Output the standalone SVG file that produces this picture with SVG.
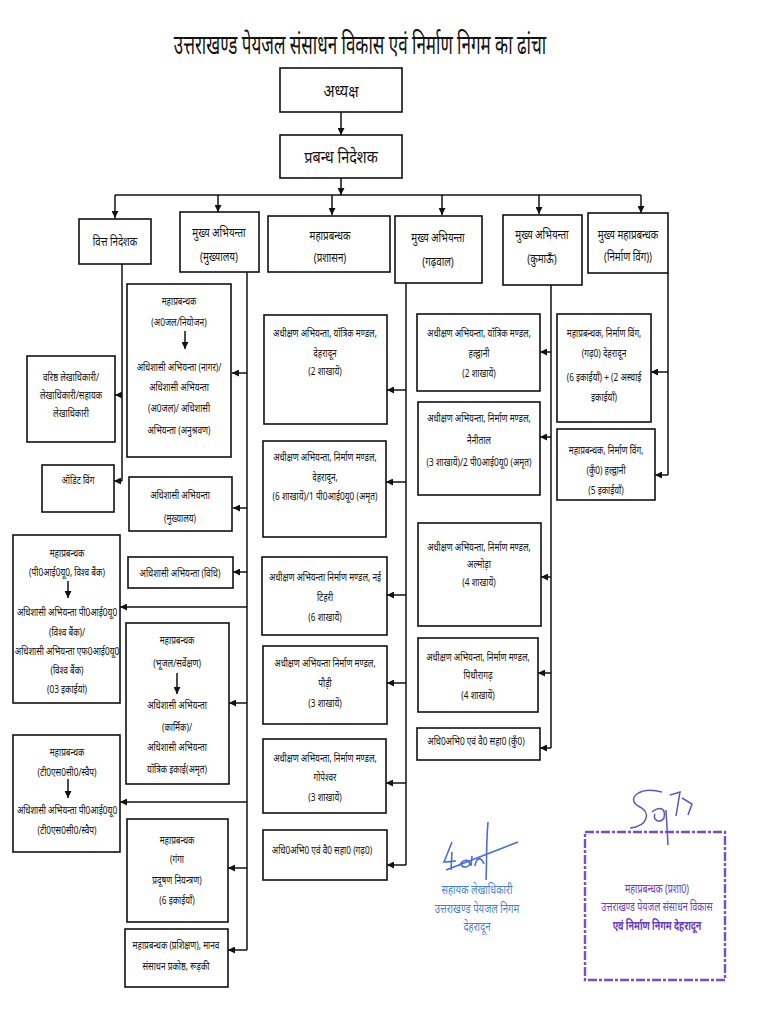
<svg xmlns="http://www.w3.org/2000/svg" width="768" height="1024" viewBox="0 0 768 1024">
<defs>
<marker id="ah" viewBox="0 0 10 10" refX="10" refY="5" markerWidth="7" markerHeight="7" markerUnits="userSpaceOnUse" orient="auto"><path d="M0,0 L10,5 L0,10 z" fill="#111"/></marker>
</defs>
<style>
.b{fill:#fff;stroke:#111;stroke-width:1.6}
text{font-family:"Noto Sans","Noto Sans Devanagari","Lohit Devanagari",sans-serif;fill:#111;text-anchor:middle;font-size:11.5px}
.h text{font-size:13px}
.c{fill:none;stroke:#111;stroke-width:1.5}
.a{fill:none;stroke:#111;stroke-width:1.5;marker-end:url(#ah)}
.blue text{fill:#4a7fd0;font-size:12px}
.pur text{fill:#6a3cc0;font-size:12px}
</style>
<rect width="768" height="1024" fill="#fff"/>
<g id="title" transform="translate(360 0) scale(0.63 1)"><text x="0" y="54" style="font-size:27px">उत्तराखण्ड पेयजल संसाधन विकास एवं निर्माण निगम का ढांचा</text></g>

<g id="connectors">
<path class="a" d="M341,112 V135"/>
<path class="a" d="M341,178 V195"/>
<path class="c" d="M115,195 H641"/>
<path class="a" d="M115,195 V218"/>
<path class="a" d="M218,195 V212"/>
<path class="a" d="M332,195 V215"/>
<path class="a" d="M442,195 V215"/>
<path class="a" d="M539,195 V214"/>
<path class="a" d="M641,195 V213"/>
<path class="c" d="M122,264 V481"/>
<path class="a" d="M122,395 H115"/>
<path class="a" d="M122,481 H114"/>
<path class="c" d="M247,272 V950"/>
<path class="a" d="M247,373 H232"/>
<path class="a" d="M247,508 H233"/>
<path class="a" d="M247,572 H233"/>
<path class="a" d="M247,607 H120"/>
<path class="a" d="M247,703 H229"/>
<path class="a" d="M247,802 H120"/>
<path class="a" d="M247,868 H228"/>
<path class="a" d="M247,950 H228"/>
<path class="c" d="M406,283 V865"/>
<path class="a" d="M406,390 H387"/>
<path class="a" d="M406,482 H386"/>
<path class="a" d="M406,595 H387"/>
<path class="a" d="M406,683 H387"/>
<path class="a" d="M406,783 H386"/>
<path class="a" d="M406,865 H387"/>
<path class="c" d="M551,285 V748"/>
<path class="a" d="M551,352 H540"/>
<path class="a" d="M551,437 H540"/>
<path class="a" d="M551,577 H541"/>
<path class="a" d="M551,673 H538"/>
<path class="a" d="M551,748 H540"/>
<path class="c" d="M668,273 V475"/>
<path class="a" d="M668,372 H651"/>
<path class="a" d="M668,475 H655"/>
</g>

<g id="n-adhyaksh"><rect class="b" x="280" y="68" width="122" height="44"/><g transform="translate(341 0) scale(0.85 1)"><text x="0" y="97" style="font-size:17px">अध्यक्ष</text></g></g>
<g id="n-md"><rect class="b" x="280" y="135" width="122" height="43"/><g transform="translate(341 0) scale(0.85 1)"><text x="0" y="163" style="font-size:17px">प्रबन्ध निदेशक</text></g></g>

<g id="n-fin" class="h"><rect class="b" x="79" y="219" width="72" height="45"/><g transform="translate(115 0) scale(0.75 1)"><text x="0" y="246">वित्त निदेशक</text></g></g>
<g id="n-ce-hq" class="h"><rect class="b" x="180" y="212" width="79" height="60"/><g transform="translate(219 0) scale(0.75 1)"><text x="0" y="237">मुख्य अभियन्ता</text><text x="0" y="261">(मुख्यालय)</text></g></g>
<g id="n-gm-admin" class="h"><rect class="b" x="268" y="216" width="122" height="56"/><g transform="translate(330 0) scale(0.75 1)"><text x="0" y="240">महाप्रबन्धक</text><text x="0" y="262">(प्रशासन)</text></g></g>
<g id="n-ce-garhwal" class="h"><rect class="b" x="395" y="216" width="87" height="67"/><g transform="translate(438 0) scale(0.75 1)"><text x="0" y="242">मुख्य अभियन्ता</text><text x="0" y="266">(गढ़वाल)</text></g></g>
<g id="n-ce-kumaon" class="h"><rect class="b" x="503" y="215" width="79" height="70"/><g transform="translate(542 0) scale(0.75 1)"><text x="0" y="239">मुख्य अभियन्ता</text><text x="0" y="263">(कुमाऊँ)</text></g></g>
<g id="n-cgm-wing" class="h"><rect class="b" x="588" y="213" width="80" height="60"/><g transform="translate(628 0) scale(0.75 1)"><text x="0" y="239">मुख्य महाप्रबन्धक</text><text x="0" y="261">(निर्माण विंग))</text></g></g>

<g id="n-accounts"><rect class="b" x="27" y="356" width="88" height="86"/><g transform="translate(71 0) scale(0.72 1)"><text x="0" y="381">वरिष्ठ लेखाधिकारी/</text><text x="0" y="399">लेखाधिकारी/सहायक</text><text x="0" y="417">लेखाधिकारी</text></g></g>
<g id="n-audit"><rect class="b" x="42" y="465" width="72" height="47"/><g transform="translate(78 0) scale(0.72 1)"><text x="0" y="484">ऑडिट विंग</text></g></g>

<g id="n-gm-plan"><rect class="b" x="127" y="284" width="104" height="173"/><g transform="translate(179 0) scale(0.72 1)"><text x="0" y="305">महाप्रबन्धक</text><text x="0" y="326">(अ0जल/नियोजन)</text><text x="0" y="371">अधिशासी अभियन्ता (नागर)/</text><text x="0" y="391">अधिशासी अभियन्ता</text><text x="0" y="412">(अ0जल)/ अधिशासी</text><text x="0" y="434">अभियन्ता (अनुश्रवण)</text></g><path class="a" d="M185,331 V349"/></g>
<g id="n-ee-hq"><rect class="b" x="129" y="477" width="103" height="54"/><g transform="translate(180 0) scale(0.72 1)"><text x="0" y="499">अधिशासी अभियन्ता</text><text x="0" y="522">(मुख्यालय)</text></g></g>
<g id="n-ee-law"><rect class="b" x="128" y="557" width="105" height="31"/><g transform="translate(180 0) scale(0.72 1)"><text x="0" y="577">अधिशासी अभियन्ता (विधि)</text></g></g>
<g id="n-gm-wb"><rect class="b" x="13" y="535" width="107" height="168"/><g transform="translate(67 0) scale(0.72 1)"><text x="0" y="557">महाप्रबन्धक</text><text x="0" y="576">(पी0आई0यू0, विश्व बैंक)</text><text x="0" y="616">अधिशासी अभियन्ता पी0आई0यू0</text><text x="0" y="636">(विश्व बैंक)/</text><text x="0" y="655">अधिशासी अभियन्ता एफ0आई0यू0</text><text x="0" y="674">(विश्व बैंक)</text><text x="0" y="693">(03 इकाईयां)</text></g><path class="a" d="M68,581 V598"/></g>
<g id="n-gm-gw"><rect class="b" x="126" y="623" width="103" height="161"/><g transform="translate(177 0) scale(0.72 1)"><text x="0" y="644">महाप्रबन्धक</text><text x="0" y="667">(भूजल/सर्वेक्षण)</text><text x="0" y="709">अधिशासी अभियन्ता</text><text x="0" y="731">(कार्मिक)/</text><text x="0" y="751">अधिशासी अभियन्ता</text><text x="0" y="773">यॉत्रिक इकाई(अमृत)</text></g><path class="a" d="M177,673 V694"/></g>
<g id="n-gm-tsc"><rect class="b" x="13" y="735" width="107" height="117"/><g transform="translate(67 0) scale(0.72 1)"><text x="0" y="756">महाप्रबन्धक</text><text x="0" y="776">(टी0एस0सी0/स्वैप)</text><text x="0" y="814">अधिशासी अभियन्ता पी0आई0यू0</text><text x="0" y="834">(टी0एस0सी0/स्वैप)</text></g><path class="a" d="M68,779 V798"/></g>
<g id="n-gm-ganga"><rect class="b" x="127" y="819" width="101" height="103"/><g transform="translate(177 0) scale(0.72 1)"><text x="0" y="844">महाप्रबन्धक</text><text x="0" y="863">(गंगा</text><text x="0" y="884">प्रदूषण नियन्त्रण)</text><text x="0" y="904">(6 इकाईयाँ)</text></g></g>
<g id="n-gm-training"><rect class="b" x="125" y="929" width="103" height="58"/><g transform="translate(176 0) scale(0.72 1)"><text x="0" y="949">महाप्रबन्धक (प्रशिक्षण), मानव</text><text x="0" y="970">संसाधन प्रकोष्ठ, रूड़की</text></g></g>

<g id="n-se-mech-ddn"><rect class="b" x="264" y="315" width="123" height="109"/><g transform="translate(325 0) scale(0.72 1)"><text x="0" y="337">अधीक्षण अभियन्ता, यॉत्रिक मण्डल,</text><text x="0" y="357">देहरादून</text><text x="0" y="375">(2 शाखायें)</text></g></g>
<g id="n-se-ddn"><rect class="b" x="263" y="441" width="123" height="96"/><g transform="translate(325 0) scale(0.72 1)"><text x="0" y="461">अधीक्षण अभियन्ता, निर्माण मण्डल,</text><text x="0" y="481">देहरादून,</text><text x="0" y="500">(6 शाखायें)/1 पी0आई0यू0 (अमृत)</text></g></g>
<g id="n-se-tehri"><rect class="b" x="262" y="557" width="125" height="78"/><g transform="translate(325 0) scale(0.72 1)"><text x="0" y="581">अधीक्षण अभियन्ता निर्माण मण्डल, नई</text><text x="0" y="601">टिहरी</text><text x="0" y="621">(6 शाखायें)</text></g></g>
<g id="n-se-pauri"><rect class="b" x="263" y="646" width="124" height="78"/><g transform="translate(325 0) scale(0.72 1)"><text x="0" y="667">अधीक्षण अभियन्ता निर्माण मण्डल,</text><text x="0" y="687">पौड़ी</text><text x="0" y="707">(3 शाखायें)</text></g></g>
<g id="n-se-gopeshwar"><rect class="b" x="263" y="739" width="123" height="74"/><g transform="translate(325 0) scale(0.72 1)"><text x="0" y="762">अधीक्षण अभियन्ता, निर्माण मण्डल,</text><text x="0" y="781">गोपेश्वर</text><text x="0" y="801">(3 शाखायें)</text></g></g>
<g id="n-ee-tech-g"><rect class="b" x="263" y="830" width="124" height="50"/><g transform="translate(322 0) scale(0.72 1)"><text x="0" y="854">अधि0अभि0 एवं वै0 सहा0 (गढ़0)</text></g></g>

<g id="n-se-mech-hld"><rect class="b" x="417" y="314" width="123" height="77"/><g transform="translate(479 0) scale(0.72 1)"><text x="0" y="337">अधीक्षण अभियन्ता, यॉत्रिक मण्डल,</text><text x="0" y="357">हल्द्वानी</text><text x="0" y="377">(2 शाखायें)</text></g></g>
<g id="n-se-nainital"><rect class="b" x="418" y="402" width="122" height="93"/><g transform="translate(479 0) scale(0.72 1)"><text x="0" y="422">अधीक्षण अभियन्ता, निर्माण मण्डल,</text><text x="0" y="444">नैनीताल</text><text x="0" y="466">(3 शाखायें)/2 पी0आई0यू0 (अमृत)</text></g></g>
<g id="n-se-almora"><rect class="b" x="418" y="523" width="123" height="103"/><g transform="translate(479 0) scale(0.72 1)"><text x="0" y="551">अधीक्षण अभियन्ता, निर्माण मण्डल,</text><text x="0" y="568">अल्मोड़ा</text><text x="0" y="586">(4 शाखायें)</text></g></g>
<g id="n-se-pithoragarh"><rect class="b" x="418" y="638" width="120" height="74"/><g transform="translate(478 0) scale(0.72 1)"><text x="0" y="661">अधीक्षण अभियन्ता, निर्माण मण्डल,</text><text x="0" y="679">पिथौरागढ़</text><text x="0" y="699">(4 शाखायें)</text></g></g>
<g id="n-ee-tech-k"><rect class="b" x="417" y="728" width="123" height="32"/><g transform="translate(476 0) scale(0.72 1)"><text x="0" y="745">अधि0अभि0 एवं वै0 सहा0 (कुँ0)</text></g></g>

<g id="n-gm-wing-g"><rect class="b" x="557" y="314" width="94" height="108"/><g transform="translate(604 0) scale(0.72 1)"><text x="0" y="337">महाप्रबन्धक, निर्माण विंग,</text><text x="0" y="357">(गढ़0) देहरादून</text><text x="0" y="381">(6 इकाईयाँ) + (2 अस्थाई</text><text x="0" y="401">इकाईयाँ)</text></g></g>
<g id="n-gm-wing-k"><rect class="b" x="557" y="429" width="98" height="71"/><g transform="translate(606 0) scale(0.72 1)"><text x="0" y="454">महाप्रबन्धक, निर्माण विंग,</text><text x="0" y="474">(कुँ0) हल्द्वानी</text><text x="0" y="494">(5 इकाईयाँ)</text></g></g>

<g id="signature-1" class="blue">
<path d="M452,842 L444,862 L456,861 M452,852 L451,870 M459,866 C462,860 468,858 470,864 C468,868 462,868 461,864 M472,856 L471,866 M475,866 C476,858 481,856 484,864 M488,822 C486,845 487,862 486,880 M446,870 L518,842" fill="none" stroke="#4a6fd0" stroke-width="1.6"/>
<g transform="translate(477 0) scale(0.8 1)">
<text x="0" y="894">सहायक लेखाधिकारी</text>
<text x="0" y="913">उत्तराखण्ड पेयजल निगम</text>
<text x="0" y="931">देहरादून</text>
</g>
</g>
<g id="stamp" class="pur">
<path d="M662,792 C640,786 626,798 638,806 C652,812 648,826 630,828 M652,812 C660,806 666,808 664,818 C660,824 652,820 655,814 M670,795 L680,792 L676,816 M682,798 L692,804 L688,815 M666,810 L668,845" fill="none" stroke="#5a55c8" stroke-width="1.5"/>
<rect x="585" y="832" width="140" height="148" fill="none" stroke="#7a4cc8" stroke-width="2.4" stroke-dasharray="9 2 3 2"/>
<g transform="translate(657 0) scale(0.75 1)">
<text x="0" y="893">महाप्रबन्धक (प्रशा0)</text>
<text x="0" y="911">उत्तराखण्ड पेयजल संसाधन विकास</text>
<text x="0" y="930" style="font-weight:bold">एवं निर्माण निगम देहरादून</text>
</g>
</g>
</svg>
